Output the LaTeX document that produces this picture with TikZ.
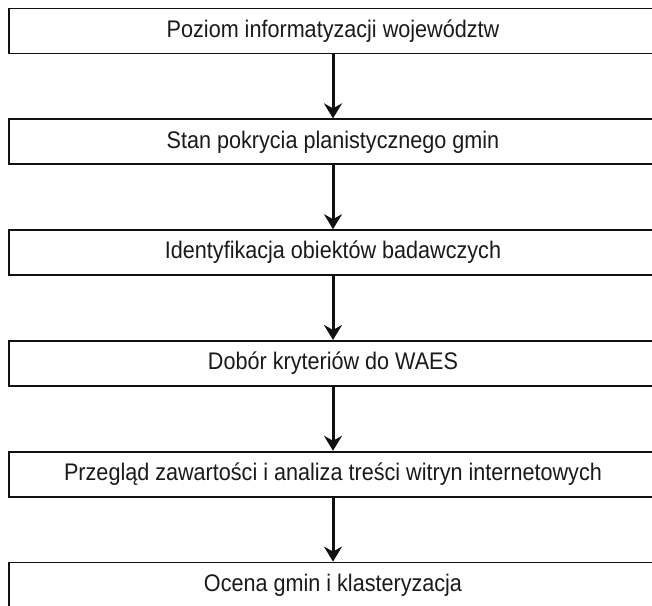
\documentclass[tikz,border=0pt]{standalone}
\usepackage{fontspec}
\setmainfont[FakeStretch=0.9]{Liberation Sans}
\usepackage{xcolor}
\usetikzlibrary{arrows.meta,positioning}
\definecolor{FlowLine}{HTML}{111111}
\definecolor{FlowText}{HTML}{1A1A1A}

\begin{document}
\begin{tikzpicture}[x=1pt,y=1pt,
    stagebox/.style={draw=FlowLine,line width=1.8pt,fill=white,
      minimum width=648pt,minimum height=45pt,inner sep=0pt,
      text=FlowText,font=\fontsize{24}{28}\selectfont},
    stagearrow/.style={-{Stealth[length=15pt,width=18pt,inset=5pt]},
      FlowLine,line width=3pt},
    node distance=64pt]
  \useasboundingbox (0,0) rectangle (652,605);

  \node[stagebox] (poziom) at (333,574) {Poziom informatyzacji województw};
  \node[stagebox,below=of poziom] (stan) {Stan pokrycia planistycznego gmin};
  \node[stagebox,below=of stan] (ident) {Identyfikacja obiektów badawczych};
  \node[stagebox,below=of ident] (dobor) {Dobór kryteriów do WAES};
  \node[stagebox,below=of dobor] (przeglad)
    {Przegląd zawartości i analiza treści witryn internetowych};
  \node[stagebox,below=of przeglad] (ocena) {Ocena gmin i klasteryzacja};

  \draw[stagearrow] (poziom) -- (stan);
  \draw[stagearrow] (stan) -- (ident);
  \draw[stagearrow] (ident) -- (dobor);
  \draw[stagearrow] (dobor) -- (przeglad);
  \draw[stagearrow] (przeglad) -- (ocena);
\end{tikzpicture}
\end{document}
